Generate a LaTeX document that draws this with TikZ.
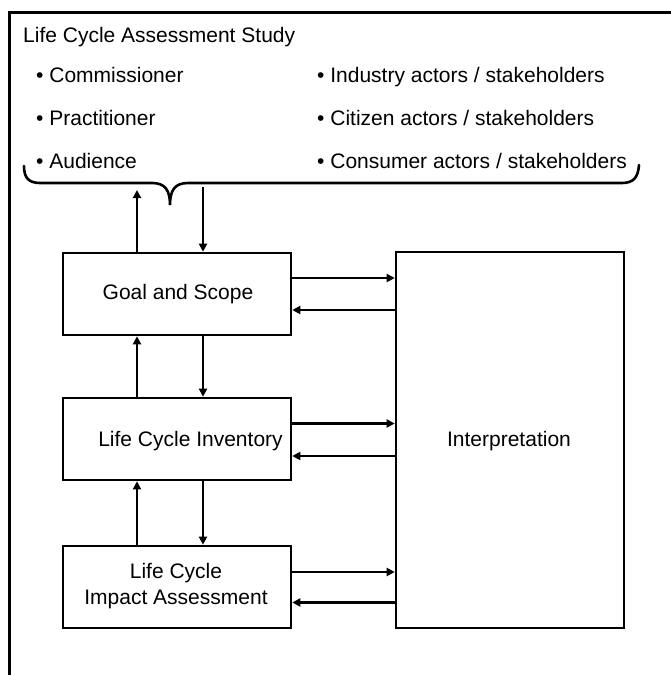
\documentclass[tikz,border=0pt]{standalone}
\usepackage{fontspec}
\setmainfont{Liberation Sans}
\usetikzlibrary{arrows.meta}
\tikzset{
  box/.style={draw, line width=2.6pt, minimum width=228pt, inner sep=0pt},
  lbl/.style={font=\fontsize{21pt}{26pt}\selectfont, inner sep=0pt},
  arr/.style={line width=2.2pt, -{Triangle[length=8pt,width=8pt]}},
  arrthick/.style={line width=2.8pt, -{Triangle[length=8pt,width=8pt]}},
  frame/.style={line width=3pt},
  brace/.style={line width=2.6pt, line cap=round}
}
\begin{document}
\begin{tikzpicture}[x=1pt,y=-1pt]
\useasboundingbox (0,0) rectangle (670,675);
% outer frame (left and top only)
\draw[frame] (9,676) -- (9,12) -- (671,12);
% title and bullets
\node[lbl, anchor=base west] (title) at (23,42) {Life Cycle Assessment Study};
\node[lbl, anchor=base west] (b1) at (36,82) {• Commissioner};
\node[lbl, anchor=base west] (b2) at (36,125) {• Practitioner};
\node[lbl, anchor=base west] (b3) at (36,168) {• Audience};
\node[lbl, anchor=base west] (b4) at (317,82) {• Industry actors / stakeholders};
\node[lbl, anchor=base west] (b5) at (317,125) {• Citizen actors / stakeholders};
\node[lbl, anchor=base west] (b6) at (317,168) {• Consumer actors / stakeholders};
% brace
\draw[brace] (24,166) .. controls (24,177) and (28,183) .. (40,183) -- (152,183)
  .. controls (165,183) and (170,190) .. (170,205)
  .. controls (170,190) and (175,183) .. (188,183) -- (622,183)
  .. controls (634,183) and (638,177) .. (639,165);
\coordinate (bup) at (137,190);
\coordinate (bdown) at (203,187);
% boxes
\node[box, minimum height=82pt] (goal) at (177,294) {};
\node[box, minimum height=82pt] (inv) at (177,439) {};
\node[box, minimum height=82pt] (lcia) at (177,587) {};
\node[box, minimum height=376pt, minimum width=228pt] (interp) at (510,440) {};
% box texts
\node[lbl] (tgoal) at (178,294) {Goal and Scope};
\node[lbl] (tinv) at (190.5,441) {Life Cycle Inventory};
\node[lbl, align=center] (tlcia) at (176,586) {Life Cycle\\Impact Assessment};
\node[lbl] (tint) at (509,441) {Interpretation};
% vertical arrows
\coordinate (xu) at (137,0);
\coordinate (xd) at (203,0);
\draw[arrthick] (goal.north -| xu) -- (bup);
\draw[arr] (bdown) -- (goal.north -| xd);
\draw[arrthick] (inv.north -| xu) -- (goal.south -| xu);
\draw[arr] (goal.south -| xd) -- (inv.north -| xd);
\draw[arrthick] (lcia.north -| xu) -- (inv.south -| xu);
\draw[arr] (inv.south -| xd) -- (lcia.north -| xd);
% horizontal arrows
\coordinate (y1) at (0,278);
\coordinate (y2) at (0,310);
\coordinate (y3) at (0,423.5);
\coordinate (y4) at (0,456);
\coordinate (y5) at (0,572);
\coordinate (y6) at (0,602.5);
\draw[arrthick] (goal.east |- y1) -- (interp.west |- y1);
\draw[arr] (interp.west |- y2) -- (goal.east |- y2);
\draw[arrthick] (inv.east |- y3) -- (interp.west |- y3);
\draw[arr] (interp.west |- y4) -- (inv.east |- y4);
\draw[arrthick] (lcia.east |- y5) -- (interp.west |- y5);
\draw[arr] (interp.west |- y6) -- (lcia.east |- y6);
\end{tikzpicture}
\end{document}
